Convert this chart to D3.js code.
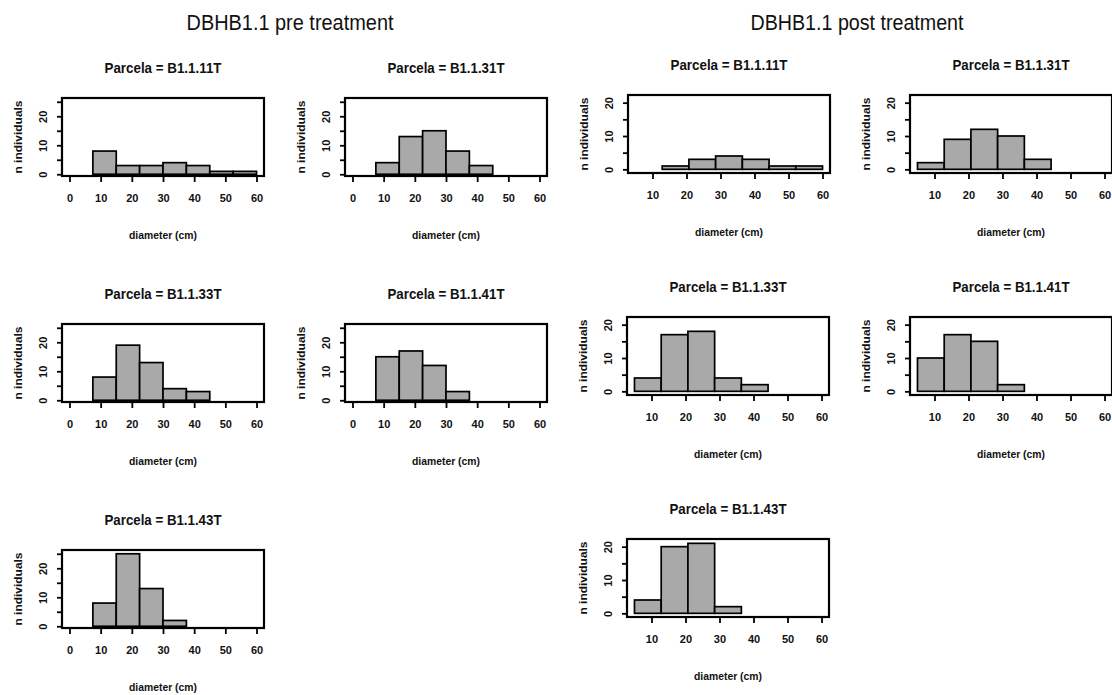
<!DOCTYPE html>
<html>
<head>
<meta charset="utf-8">
<script src="https://cdn.jsdelivr.net/npm/d3@7"></script>
<style>
  html, body { margin: 0; padding: 0; background: #fff; }
  svg { display: block; }
  text { font-family: "Liberation Sans Narrow", "Arial Narrow", "Liberation Sans", sans-serif; fill: #111; }
</style>
</head>
<body>
<svg id="chart" width="1112" height="695"></svg>
<script>
// ---------------- data ----------------
const mainTitles = ["DBHB1.1 pre treatment", "DBHB1.1 post treatment"];
const parcelas = ["B1.1.11T", "B1.1.31T", "B1.1.33T", "B1.1.41T", "B1.1.43T"];

// pre-treatment histogram: breaks 0..60 by 7.5
const preBreaks = [0, 7.5, 15, 22.5, 30, 37.5, 45, 52.5, 60];
const pre11T = [0, 8, 3, 3, 4, 3, 1, 1];
const pre31T = [0, 4, 13, 15, 8, 3, 0, 0];
const pre33T = [0, 8, 19, 13, 4, 3, 0, 0];
const pre41T = [0, 15, 17, 12, 3, 0, 0, 0];
const pre43T = [0, 8, 25, 13, 2, 0, 0, 0];
const preXTicks = [0, 10, 20, 30, 40, 50, 60];
const preYTicks = [0, 5, 10, 15, 20, 25];

// post-treatment histogram: breaks 5..60 in 7 bins
const postBreaks = [5, 12.857, 20.714, 28.571, 36.429, 44.286, 52.143, 60];
const post11T = [0, 1, 3, 4, 3, 1, 1];
const post31T = [2, 9, 12, 10, 3, 0, 0];
const post33T = [4, 17, 18, 4, 2, 0, 0];
const post41T = [10, 17, 15, 2, 0, 0, 0];
const post43T = [4, 20, 21, 2, 0, 0, 0];
const postXTicks = [10, 20, 30, 40, 50, 60];
const postYTicks = [0, 5, 10, 15, 20];
const yLabelTicks = [0, 10, 20];

const xLabel = "diameter (cm)";
const yLabel = "n individuals";

// ---------------- layout ----------------
const W = 202, H = 78;
const preCfg = { breaks: preBreaks, xDom: [-2.4, 62.4], yDom: [-0.6, 26.3], xt: preXTicks, yt: preYTicks };
const postCfg = { breaks: postBreaks, xDom: [2.8, 62.2], yDom: [-1.1, 22.3], xt: postXTicks, yt: postYTicks };

const panels = [
  { cfg: preCfg,  name: parcelas[0], counts: pre11T,  left: 62,  top: 98 },
  { cfg: preCfg,  name: parcelas[1], counts: pre31T,  left: 345, top: 98 },
  { cfg: preCfg,  name: parcelas[2], counts: pre33T,  left: 62,  top: 324 },
  { cfg: preCfg,  name: parcelas[3], counts: pre41T,  left: 345, top: 324 },
  { cfg: preCfg,  name: parcelas[4], counts: pre43T,  left: 62,  top: 550 },
  { cfg: postCfg, name: parcelas[0], counts: post11T, left: 628, top: 95 },
  { cfg: postCfg, name: parcelas[1], counts: post31T, left: 910, top: 95 },
  { cfg: postCfg, name: parcelas[2], counts: post33T, left: 627, top: 317 },
  { cfg: postCfg, name: parcelas[3], counts: post41T, left: 910, top: 317 },
  { cfg: postCfg, name: parcelas[4], counts: post43T, left: 627, top: 539 }
];

const svg = d3.select("#chart");
svg.append("rect").attr("width", 1112).attr("height", 695).attr("fill", "#fff");

// main titles
svg.append("text").attr("x", 290).attr("y", 22).attr("dy", "0.35em")
  .attr("text-anchor", "middle").attr("font-size", 22)
  .attr("textLength", 207).attr("lengthAdjust", "spacingAndGlyphs")
  .text(mainTitles[0]);
svg.append("text").attr("x", 857).attr("y", 22).attr("dy", "0.35em")
  .attr("text-anchor", "middle").attr("font-size", 22)
  .attr("textLength", 213).attr("lengthAdjust", "spacingAndGlyphs")
  .text(mainTitles[1]);

panels.forEach(p => {
  const c = p.cfg;
  const x = d3.scaleLinear().domain(c.xDom).range([0, W]);
  const y = d3.scaleLinear().domain(c.yDom).range([H, 0]);
  const g = svg.append("g").attr("transform", `translate(${p.left},${p.top})`);

  // bars
  const bins = p.counts.map((v, i) => ({ x0: c.breaks[i], x1: c.breaks[i + 1], v }));
  g.selectAll("rect.bar").data(bins).join("rect")
    .attr("class", "bar")
    .attr("x", d => x(d.x0))
    .attr("width", d => x(d.x1) - x(d.x0))
    .attr("y", d => y(d.v))
    .attr("height", d => y(0) - y(d.v))
    .attr("fill", "#a9a9a9")
    .attr("stroke", "#000")
    .attr("stroke-width", 1.7);

  // box
  g.append("rect").attr("x", 0).attr("y", 0).attr("width", W).attr("height", H)
    .attr("fill", "none").attr("stroke", "#000").attr("stroke-width", 2.2);

  // x axis
  const xa = g.append("g").attr("transform", `translate(0,${H})`)
    .call(d3.axisBottom(x).tickValues(c.xt).tickSize(6).tickSizeOuter(0).tickPadding(12).tickFormat(d3.format("d")));
  xa.select(".domain").remove();
  xa.selectAll(".tick line").attr("stroke", "#000").attr("stroke-width", 1.8);
  xa.selectAll(".tick text").attr("font-size", 11).attr("font-weight", "bold").attr("fill", "#111")
    .attr("font-family", "Liberation Sans Narrow, Arial Narrow, sans-serif");

  // y axis
  const ya = g.append("g")
    .call(d3.axisLeft(y).tickValues(c.yt).tickSize(5).tickSizeOuter(0)
      .tickFormat(v => yLabelTicks.includes(v) ? String(v) : ""));
  ya.select(".domain").attr("d", `M0,${y(c.yt[0])}V${y(c.yt[c.yt.length - 1])}`)
    .attr("stroke", "#000").attr("stroke-width", 1.8);
  ya.selectAll(".tick line").attr("stroke", "#000").attr("stroke-width", 1.8);
  ya.selectAll(".tick text")
    .attr("transform", "rotate(-90)")
    .attr("x", 0).attr("y", -19).attr("dy", "0.35em")
    .attr("text-anchor", "middle")
    .attr("font-size", 11).attr("font-weight", "bold").attr("fill", "#111")
    .attr("font-family", "Liberation Sans Narrow, Arial Narrow, sans-serif");

  // panel title
  g.append("text").attr("x", W / 2).attr("y", -30).attr("dy", "0.35em")
    .attr("text-anchor", "middle").attr("font-size", 14).attr("font-weight", "bold")
    .attr("textLength", 117).attr("lengthAdjust", "spacingAndGlyphs")
    .text("Parcela = " + p.name);

  // x label
  g.append("text").attr("x", W / 2).attr("y", H + 59).attr("dy", "0.35em")
    .attr("text-anchor", "middle").attr("font-size", 11).attr("font-weight", "bold")
    .attr("textLength", 68).attr("lengthAdjust", "spacingAndGlyphs")
    .text(xLabel);

  // y label
  g.append("text").attr("transform", `translate(-44,${H / 2}) rotate(-90)`)
    .attr("dy", "0.35em").attr("text-anchor", "middle").attr("font-size", 11).attr("font-weight", "bold")
    .attr("textLength", 73).attr("lengthAdjust", "spacingAndGlyphs")
    .text(yLabel);
});
</script>
</body>
</html>
